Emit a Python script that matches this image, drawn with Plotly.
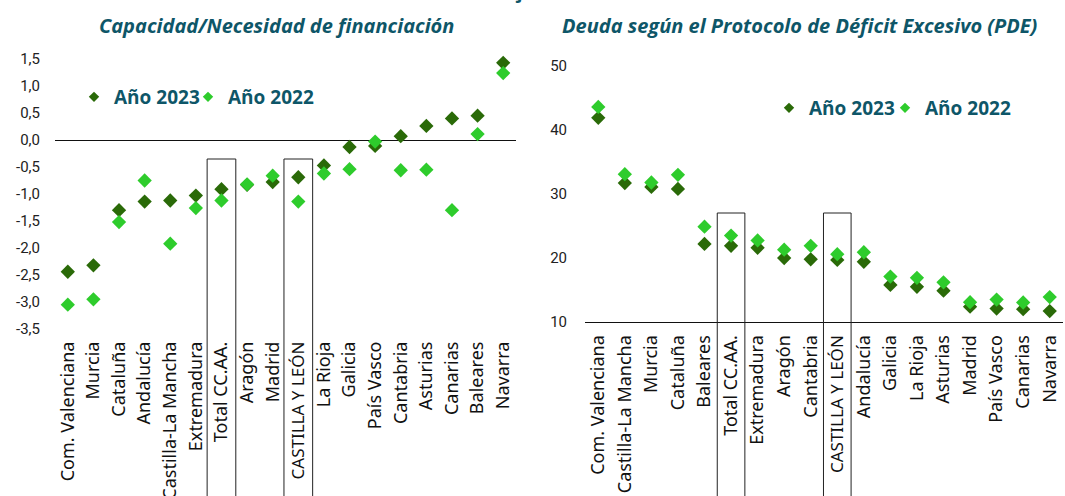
import plotly.graph_objects as go

# ---------------- data ----------------
left_cats = ["Com. Valenciana", "Murcia", "Cataluña", "Andalucía", "Castilla-La Mancha",
             "Extremadura", "Total CC.AA.", "Aragón", "Madrid", "CASTILLA Y LEÓN",
             "La Rioja", "Galicia", "País Vasco", "Cantabria", "Asturias", "Canarias",
             "Baleares", "Navarra"]
left_2023 = [-2.44, -2.32, -1.30, -1.14, -1.12, -1.03, -0.91, -0.83, -0.78, -0.69,
             -0.47, -0.13, -0.11, 0.07, 0.26, 0.40, 0.45, 1.43]
left_2022 = [-3.05, -2.95, -1.52, -0.75, -1.92, -1.26, -1.12, -0.82, -0.66, -1.14,
             -0.62, -0.54, -0.03, -0.56, -0.55, -1.30, 0.11, 1.24]
left_tickvals = [1.5, 1.0, 0.5, 0.0, -0.5, -1.0, -1.5, -2.0, -2.5, -3.0, -3.5]
left_ticktext = ["1,5", "1,0", "0,5", "0,0", "-0,5", "-1,0", "-1,5", "-2,0", "-2,5", "-3,0", "-3,5"]

right_cats = ["Com. Valenciana", "Castilla-La Mancha", "Murcia", "Cataluña", "Baleares",
              "Total CC.AA.", "Extremadura", "Aragón", "Cantabria", "CASTILLA Y LEÓN",
              "Andalucía", "Galicia", "La Rioja", "Asturias", "Madrid", "País Vasco",
              "Canarias", "Navarra"]
right_2023 = [41.9, 31.7, 31.1, 30.8, 22.2, 21.9, 21.6, 20.0, 19.8, 19.7,
              19.4, 15.8, 15.5, 14.9, 12.4, 12.1, 12.0, 11.7]
right_2022 = [43.6, 33.1, 31.8, 33.0, 24.9, 23.5, 22.75, 21.3, 21.9, 20.6,
              20.9, 17.1, 16.9, 16.2, 13.1, 13.5, 13.05, 13.9]
right_tickvals = [10, 20, 30, 40, 50]

series_names = ["Año 2023", "Año 2022"]
highlight = ["Total CC.AA.", "CASTILLA Y LEÓN"]

left_title = "Capacidad/Necesidad de financiación"
right_title = "Deuda según el Protocolo de Déficit Excesivo (PDE)"
top_title = "Porcentajes del PIB"

# ---------------- style ----------------
DARK = "#2a6a08"
LIGHT = "#2ecc2c"
TEAL = "#0e5668"
W, H = 1065, 496
MSIZE = 11


def ypaper(px):
    return 1 - px / H


def cat_text(c):
    # upper-case labels are set slightly smaller, as in the reference
    return f"<span style='font-size:17px'>{c}</span>" if c.isupper() else c


fig = go.Figure()

# chart traces (2022 drawn above 2023)
for cats, vals, col, nm, xa, ya in (
        (left_cats, left_2023, DARK, series_names[0], "x", "y"),
        (left_cats, left_2022, LIGHT, series_names[1], "x", "y"),
        (right_cats, right_2023, DARK, series_names[0], "x2", "y2"),
        (right_cats, right_2022, LIGHT, series_names[1], "x2", "y2")):
    fig.add_trace(go.Scatter(x=cats, y=vals, mode="markers", name=nm,
                             marker=dict(symbol="diamond", size=MSIZE, color=col),
                             showlegend=False, cliponaxis=False, xaxis=xa, yaxis=ya))

# legend entries: one legend per entry so that spacing can match the reference
legend_font = dict(family="Open Sans, sans-serif", size=19, color=TEAL, weight="bold")
legend_specs = [("legend", series_names[0], DARK, "x", "y", 74, 97),
                ("legend2", series_names[1], LIGHT, "x", "y", 188, 97),
                ("legend3", series_names[0], DARK, "x2", "y2", 769, 108),
                ("legend4", series_names[1], LIGHT, "x2", "y2", 885, 108)]
legend_layout = {}
for lg, nm, col, xa, ya, lx, ly in legend_specs:
    fig.add_trace(go.Scatter(x=[None], y=[None], mode="markers", name=nm,
                             marker=dict(symbol="diamond", size=8, color=col),
                             legend=lg, xaxis=xa, yaxis=ya))
    legend_layout[lg] = dict(orientation="h", x=lx / W, y=ypaper(ly), xanchor="left",
                             yanchor="middle", bgcolor="rgba(0,0,0,0)", font=legend_font)

cat_font = dict(family="Noto Sans, sans-serif", size=18, color="#111111")
num_font = dict(family="Roboto, sans-serif", size=15, color="#222222")

fig.update_layout(
    width=W, height=H,
    margin=dict(l=0, r=0, t=0, b=0, autoexpand=False),
    paper_bgcolor="white", plot_bgcolor="white",
    xaxis=dict(domain=[55 / W, 516 / W], range=[-0.5, len(left_cats) - 0.5],
               tickmode="array", tickvals=left_cats,
               ticktext=[cat_text(c) for c in left_cats],
               tickangle=-90, tickfont=cat_font, showgrid=False, showline=False,
               ticks="", ticklabelstandoff=8, anchor="y"),
    yaxis=dict(domain=[ypaper(329), ypaper(59)], range=[-3.5, 1.5],
               tickvals=left_tickvals, ticktext=left_ticktext, tickfont=num_font,
               showgrid=False, zeroline=True, zerolinecolor="#111111", zerolinewidth=1,
               showline=False, ticks="", ticklabelstandoff=14, anchor="x"),
    xaxis2=dict(domain=[585 / W, 1063 / W], range=[-0.5, len(right_cats) - 0.5],
                tickmode="array", tickvals=right_cats,
                ticktext=[cat_text(c) for c in right_cats],
                tickangle=-90, tickfont=cat_font, showgrid=False, showline=True,
                linecolor="#111111", linewidth=1, ticks="", ticklabelstandoff=5,
                anchor="y2"),
    yaxis2=dict(domain=[ypaper(322), ypaper(66)], range=[10, 50],
                tickvals=right_tickvals, tickfont=num_font, showgrid=False,
                zeroline=False, showline=False, ticks="", ticklabelstandoff=17,
                anchor="x2"),
    **legend_layout,
)

title_font = dict(family="Open Sans, sans-serif", size=20, color=TEAL, weight="bold",
                  style="italic")
fig.add_annotation(text=left_title, xref="paper", yref="paper", x=276 / W, y=ypaper(25),
                   xanchor="center", yanchor="middle", showarrow=False, font=title_font)
fig.add_annotation(text=right_title, xref="paper", yref="paper", x=800 / W, y=ypaper(25),
                   xanchor="center", yanchor="middle", showarrow=False, font=title_font)
fig.add_annotation(text=top_title, xref="paper", yref="paper", x=522 / W, y=ypaper(6.5),
                   xanchor="center", yanchor="bottom", showarrow=False,
                   font=dict(family="Open Sans, sans-serif", size=18, color=TEAL, weight="bold"))

# highlight boxes
for cats, xref, half, top in ((left_cats, "x", 0.56, 159), (right_cats, "x2", 0.52, 213)):
    for name in highlight:
        i = cats.index(name)
        fig.add_shape(type="rect", xref=xref, yref="paper", x0=i - half, x1=i + half,
                      y0=-0.05, y1=ypaper(top), line=dict(color="#222222", width=1),
                      fillcolor="rgba(0,0,0,0)", layer="above")

fig.write_html("out.html", config={"displayModeBar": False},
               post_script="document.body.style.margin='0px';")
